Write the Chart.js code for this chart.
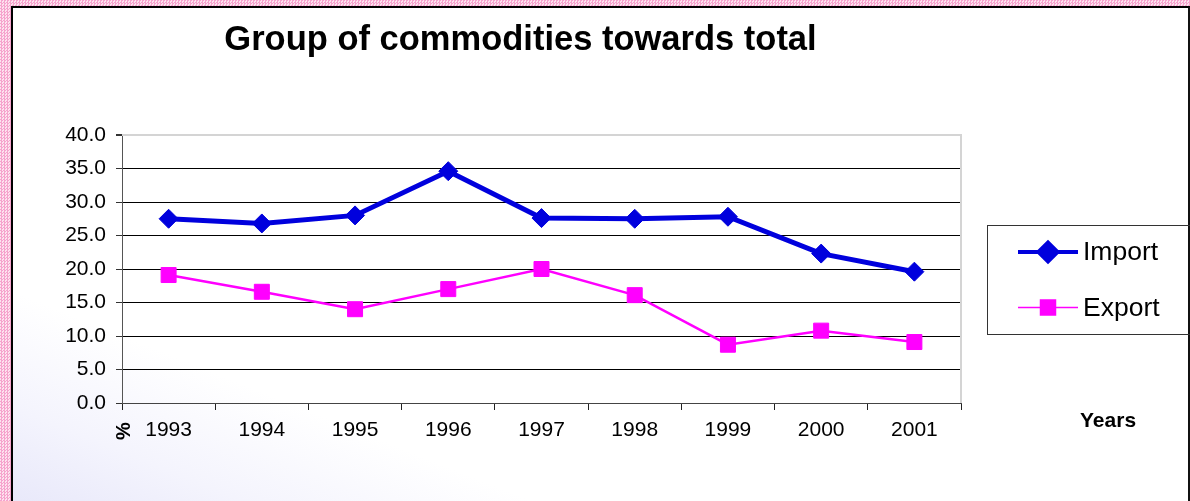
<!DOCTYPE html>
<html>
<head>
<meta charset="utf-8">
<title>Group of commodities towards total</title>
<script src="https://cdn.jsdelivr.net/npm/chart.js@4/dist/chart.umd.min.js"></script>
<style>
  html, body { margin: 0; padding: 0; }
  body {
    width: 1190px; height: 501px; position: relative; overflow: hidden;
    background-color: #fbc6df;
    background-image: repeating-conic-gradient(#f6a3cd 0 25%, #fde3ef 0 50%);
    background-size: 3px 3px;
  }
  #frame {
    position: absolute; left: 11px; top: 6px; width: 1175px; height: 497px;
    border-left: 2px solid #000; border-top: 2px solid #000; border-right: 2px solid #111;
    background: linear-gradient(22deg, #e8e8fa 0%, #f4f4fd 10%, #ffffff 22%);
  }
  #chart { position: absolute; left: 0; top: 0; }
</style>
</head>
<body>
<div id="frame"></div>
<canvas id="chart" width="1190" height="501"></canvas>
<script>
const FONT = "'Liberation Sans', Arial, sans-serif";

// Share of the commodity group in total trade, %
const years = ['1993', '1994', '1995', '1996', '1997', '1998', '1999', '2000', '2001'];
const importShare = [27.5, 26.8, 28.0, 34.6, 27.6, 27.5, 27.8, 22.3, 19.6];
const exportShare = [19.1, 16.6, 14.0, 17.0, 20.0, 16.1, 8.7, 10.8, 9.1];
const seriesNames = ['Import', 'Export'];

const yMin = 0, yMax = 40, yStep = 5;
const titleText = 'Group of commodities towards total';
const xAxisTitle = 'Years';
const yAxisTitle = '%';

// Light grey border on the top/right of the plot area
const plotBorder = {
  id: 'plotBorder',
  beforeDatasetsDraw(chart) {
    const { ctx, chartArea: a } = chart;
    ctx.save();
    ctx.strokeStyle = '#d4d4d4';
    ctx.lineWidth = 2;
    ctx.beginPath();
    ctx.moveTo(a.left, a.top);
    ctx.lineTo(a.right, a.top);
    ctx.lineTo(a.right, a.bottom);
    ctx.stroke();
    ctx.restore();
  }
};

// Title, axis captions and the boxed legend
const captions = {
  id: 'captions',
  afterDraw(chart) {
    const { ctx } = chart;
    ctx.save();
    ctx.fillStyle = '#000';

    ctx.font = 'bold 34.5px ' + FONT;
    ctx.textAlign = 'center';
    ctx.textBaseline = 'alphabetic';
    ctx.fillText(titleText, 520.5, 50);

    ctx.font = 'bold 21px ' + FONT;
    ctx.textAlign = 'left';
    ctx.textBaseline = 'middle';
    ctx.fillText(xAxisTitle, 1080, 421);

    ctx.save();
    ctx.translate(124, 431);
    ctx.rotate(-Math.PI / 2);
    ctx.textAlign = 'center';
    ctx.font = 'bold 20px ' + FONT;
    ctx.fillText(yAxisTitle, 0, 0);
    ctx.restore();

    // legend box
    const box = { x: 987.5, y: 225.5, w: 210, h: 109 };
    ctx.strokeStyle = '#333';
    ctx.lineWidth = 1;
    ctx.strokeRect(box.x, box.y, box.w, box.h);

    chart.data.datasets.forEach((ds, i) => {
      const cy = 252 + i * 55.5;
      ctx.strokeStyle = ds.borderColor;
      ctx.lineWidth = Math.max(1.5, ds.borderWidth - 1);
      ctx.beginPath();
      ctx.moveTo(1018, cy);
      ctx.lineTo(1078, cy);
      ctx.stroke();
      ctx.fillStyle = ds.pointBackgroundColor;
      ctx.strokeStyle = ds.pointBorderColor;
      Chart.helpers.drawPoint(ctx, {
        pointStyle: ds.pointStyle,
        radius: ds.pointRadius,
        borderWidth: ds.pointBorderWidth,
        rotation: 0
      }, 1048, cy);
      ctx.fillStyle = '#000';
      ctx.font = '26.5px ' + FONT;
      ctx.textAlign = 'left';
      ctx.textBaseline = 'middle';
      ctx.fillText(ds.label, 1083, cy + 1);
    });
    ctx.restore();
  }
};

new Chart(document.getElementById('chart'), {
  type: 'line',
  data: {
    labels: years,
    datasets: [
      {
        label: seriesNames[0],
        data: importShare,
        borderColor: '#0000dd',
        backgroundColor: '#0000dd',
        borderWidth: 5,
        tension: 0,
        pointStyle: 'rectRot',
        pointRadius: 9.5,
        pointHoverRadius: 9.5,
        pointBackgroundColor: '#0000dd',
        pointBorderColor: '#0000dd',
        pointBorderWidth: 1
      },
      {
        label: seriesNames[1],
        data: exportShare,
        borderColor: '#ff00ff',
        backgroundColor: '#ff00ff',
        borderWidth: 2.5,
        tension: 0,
        pointStyle: 'rect',
        pointRadius: 10.6,
        pointHoverRadius: 10.6,
        pointBackgroundColor: '#ff00ff',
        pointBorderColor: '#ff00ff',
        pointBorderWidth: 1
      }
    ]
  },
  options: {
    responsive: false,
    animation: false,
    devicePixelRatio: 1,
    layout: { padding: { left: 0, top: 135, right: 229, bottom: 0 } },
    plugins: {
      legend: { display: false },
      title: { display: false },
      tooltip: { enabled: false }
    },
    scales: {
      x: {
        type: 'category',
        offset: true,
        afterFit(scale) { scale.height = 98; },
        grid: {
          offset: true,
          drawOnChartArea: false,
          drawTicks: true,
          tickLength: 7,
          color: '#222',
          tickColor: '#222'
        },
        border: { color: '#444', width: 1 },
        ticks: {
          color: '#000',
          font: { family: FONT, size: 21 },
          padding: 8,
          maxRotation: 0,
          autoSkip: false
        }
      },
      y: {
        min: yMin,
        max: yMax,
        afterFit(scale) { scale.width = 122; },
        grid: {
          color: (c) => (c.tick && c.tick.value === yMax ? '#d8d8d8' : '#000'),
          lineWidth: (c) => (c.tick && c.tick.value === yMax ? 2 : 1),
          tickColor: '#333',
          tickLength: 6
        },
        border: { color: '#555', width: 1 },
        ticks: {
          stepSize: yStep,
          color: '#000',
          font: { family: FONT, size: 21 },
          padding: 10,
          callback: (v) => Number(v).toFixed(1)
        }
      }
    }
  },
  plugins: [plotBorder, captions]
});
</script>
</body>
</html>
